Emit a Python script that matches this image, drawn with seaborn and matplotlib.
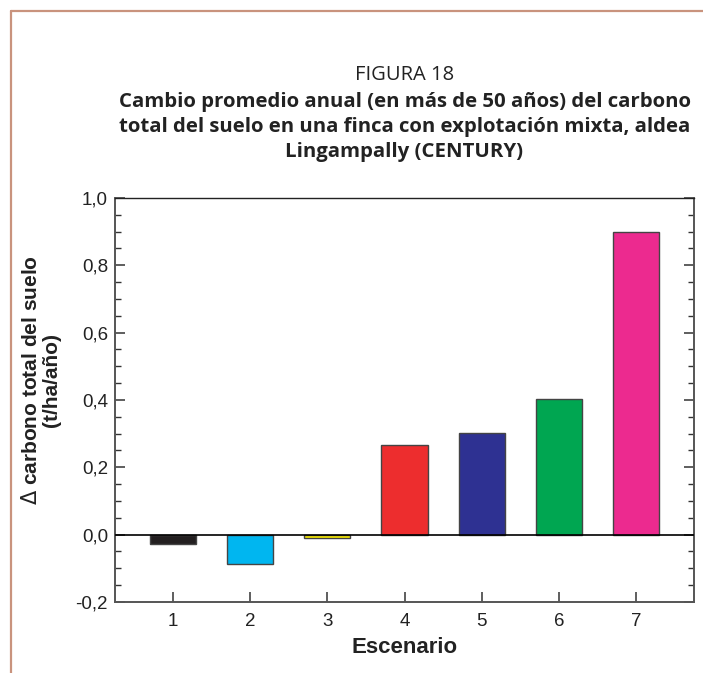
import numpy as np
import pandas as pd
import matplotlib
matplotlib.use("Agg")
import matplotlib.pyplot as plt
import seaborn as sns
from matplotlib.ticker import MultipleLocator, FuncFormatter
from matplotlib.lines import Line2D

# Datos
escenarios = ["1", "2", "3", "4", "5", "6", "7"]
cambio_carbono = [-0.028, -0.088, -0.011, 0.266, 0.301, 0.403, 0.898]
colores = ["#231f20", "#00b6f0", "#fff200", "#ed2d2e", "#2e3192", "#00a651", "#ec2a8f"]

titulo_1 = "FIGURA 18"
titulo_2 = ("Cambio promedio anual (en más de 50 años) del carbono\n"
            "total del suelo en una finca con explotación mixta, aldea\n"
            "Lingampally (CENTURY)")

sns.set_style("white")
plt.rcParams['font.family'] = ['Liberation Sans', 'DejaVu Sans']

df = pd.DataFrame({"Escenario": escenarios, "Cambio": cambio_carbono})

fig = plt.figure(figsize=(7.03, 6.73), dpi=100)
ax = fig.add_axes([0.1636, 0.1055, 0.8236, 0.6003])

sns.barplot(data=df, x="Escenario", y="Cambio", hue="Escenario",
            palette=colores, legend=False, width=0.6,
            edgecolor="#444444", linewidth=1.0, saturation=1, ax=ax)

ax.axhline(0, color="black", linewidth=1.2, zorder=3)
ax.set_xlim(-0.75, 6.75)
ax.set_ylim(-0.2, 1.0)

ax.yaxis.set_major_locator(MultipleLocator(0.2))
ax.yaxis.set_minor_locator(MultipleLocator(0.05))
ax.yaxis.set_major_formatter(FuncFormatter(lambda v, p: f"{v:.1f}".replace(".", ",")))

ax.tick_params(axis="both", which="major", direction="in", length=7, width=1.1,
               color="#333333", labelsize=13.5, labelcolor="#222222")
ax.tick_params(axis="y", which="minor", direction="in", length=4, width=1.0,
               color="#333333")
ax.tick_params(axis="y", which="both", right=True, left=True)
ax.tick_params(axis="x", which="major", bottom=True, pad=8)
ax.tick_params(axis="y", which="major", pad=5)

for lado, sp in ax.spines.items():
    sp.set_visible(True)
    sp.set_color("#555555")
    sp.set_linewidth(1.4)
ax.spines["top"].set_color("#222222")
ax.spines["top"].set_linewidth(1.0)

ax.set_xlabel("Escenario", fontsize=16, fontweight="bold", color="#222222", labelpad=5)
ax.set_ylabel("$\\Delta$ carbono total del suelo\n(t/ha/año)", fontsize=15,
              fontweight="bold", color="#222222", linespacing=1.05)
ax.yaxis.set_label_coords(-0.093, 0.55)

# Títulos
xc = (0.1636 + 0.9872) / 2
fig.text(xc, 1 - 75 / 673, titulo_1, ha="center", va="center", fontsize=14.5,
         family="Open Sans", color="#222222")
fig.text(xc, 1 - 127 / 673, titulo_2, ha="center", va="center", fontsize=14.7,
         family="Open Sans", fontweight="bold", color="#222222", linespacing=1.33)

# Marco
marco = "#c9937d"
fig.add_artist(Line2D([11 / 703, 1], [1 - 11 / 673, 1 - 11 / 673],
                      transform=fig.transFigure, color=marco, linewidth=1.6))
fig.add_artist(Line2D([11 / 703, 11 / 703], [0, 1 - 11 / 673],
                      transform=fig.transFigure, color=marco, linewidth=1.6))

fig.savefig("out.png", dpi=100)
